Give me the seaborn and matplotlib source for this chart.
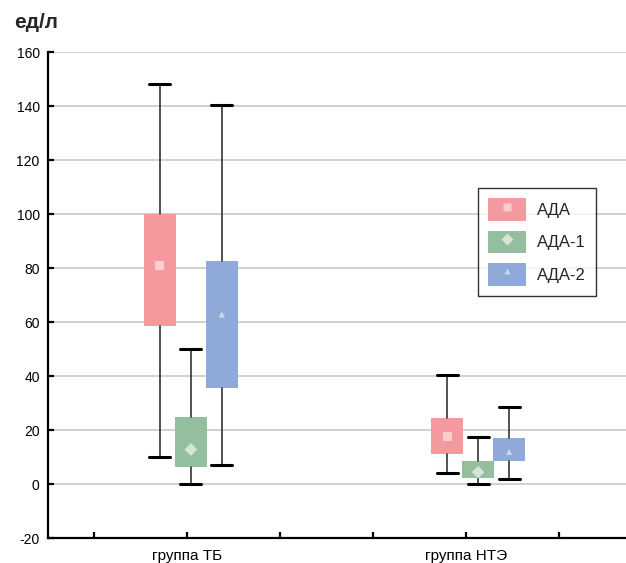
import matplotlib
matplotlib.use('Agg')
import numpy as np
import pandas as pd
import seaborn as sns
import matplotlib.pyplot as plt
from matplotlib.patches import Patch
from matplotlib.lines import Line2D

# data
groups = ['группа ТБ', 'группа НТЭ']
series = ['АДА', 'АДА-1', 'АДА-2']
whisker_low = {'АДА': [10, 4], 'АДА-1': [0, 0], 'АДА-2': [7, 2]}
box_low = {'АДА': [58.5, 11.2], 'АДА-1': [6.4, 2.3], 'АДА-2': [35.5, 8.6]}
box_high = {'АДА': [100, 24.4], 'АДА-1': [24.7, 8.5], 'АДА-2': [82.5, 17]}
whisker_high = {'АДА': [148, 40.5], 'АДА-1': [50, 17.5], 'АДА-2': [140.5, 28.5]}
means = {'АДА': [81, 17.7], 'АДА-1': [12.8, 4.4], 'АДА-2': [62.8, 11.9]}

# styles
colors = {'АДА': '#F4999E', 'АДА-1': '#94BF9E', 'АДА-2': '#8FAAD9'}
mean_colors = {'АДА': '#F8CED1', 'АДА-1': '#D3E6D7', 'АДА-2': '#C9D6EE'}
markers = {'АДА': 's', 'АДА-1': 'D', 'АДА-2': '^'}
marker_sizes = {'АДА': 6.5, 'АДА-1': 6.5, 'АДА-2': 4.5}
group_centers = [0.014, 1.043]
offsets = [-0.111, 0.0, 0.111]
box_width = 0.115

sns.set_style('white')
plt.rcParams['font.family'] = ['Liberation Sans', 'DejaVu Sans']
plt.rcParams['axes.unicode_minus'] = False

fig = plt.figure(figsize=(6.26, 5.63), dpi=100)
ax = fig.add_axes([48 / 626, 25 / 563, 1 - 48 / 626, 486 / 563])

rows = []
for s in series:
    for g in range(len(groups)):
        rows.append({'group': groups[g], 'series': s, 'mean': means[s][g]})
df = pd.DataFrame(rows)

for i, s in enumerate(series):
    stats = []
    for g in range(len(groups)):
        stats.append({'whislo': whisker_low[s][g], 'q1': box_low[s][g], 'med': means[s][g],
                      'q3': box_high[s][g], 'whishi': whisker_high[s][g], 'mean': means[s][g]})
    pos = [c + offsets[i] for c in group_centers]
    ax.bxp(stats, positions=pos, widths=box_width, patch_artist=True, showfliers=False,
           showmeans=False, manage_ticks=False,
           boxprops=dict(facecolor=colors[s], edgecolor='none', linewidth=0),
           whiskerprops=dict(color='#333333', linewidth=1.2),
           capprops=dict(color='black', linewidth=2.2),
           capwidths=0.075,
           medianprops=dict(linewidth=0, color='none'),
           zorder=3)
    sub = df[df['series'] == s].copy()
    sub['x'] = pos
    sns.scatterplot(data=sub, x='x', y='mean', marker=markers[s], s=marker_sizes[s] ** 2,
                    color=mean_colors[s], edgecolor='none', ax=ax, zorder=4, legend=False)

ax.set_ylim(-20, 160)
ax.set_yticks(np.arange(-20, 161, 20))
ax.set_xlim(-0.498, 1.573)
tick_pos = [-1 / 3, 0, 1 / 3, 2 / 3, 1, 4 / 3]
ax.set_xticks(tick_pos)
ax.set_xticklabels(['', groups[0], '', '', groups[1], ''])
ax.grid(axis='y', color='#C4C4C4', linewidth=1.1, zorder=0)
ax.grid(axis='x', visible=False)
ax.set_axisbelow(True)
ax.set_xlabel('')
ax.set_ylabel('')

for side in ['top', 'right']:
    ax.spines[side].set_visible(False)
for side in ['left', 'bottom']:
    ax.spines[side].set_color('black')
    ax.spines[side].set_linewidth(1.6)
ax.tick_params(axis='both', direction='in', length=4, width=1.6, color='black',
               labelsize=10, labelcolor='black', left=True, bottom=True)
ax.tick_params(axis='x', pad=8, labelsize=11)
ax.tick_params(axis='y', pad=6)

fig.text(14 / 626, 1 - 22 / 563, 'ед/л', fontsize=15, fontweight='bold', va='center', ha='left')

handles = []
for s in series:
    handles.append((Patch(facecolor=colors[s], edgecolor='none'),
                    Line2D([], [], linestyle='none', marker=markers[s], markersize=marker_sizes[s] * 0.9,
                           markerfacecolor=mean_colors[s], markeredgecolor='none')))
leg = ax.legend(handles, series, loc='upper left', bbox_to_anchor=(0.744, 0.72), borderaxespad=0,
                fontsize=12, handlelength=2.28, handleheight=1.74, labelspacing=0.57,
                handletextpad=0.66, borderpad=0.6, fancybox=False, frameon=True)
leg.get_frame().set_edgecolor('black')
leg.get_frame().set_linewidth(1.0)
leg.get_frame().set_facecolor('white')

fig.savefig('out.png', dpi=100)
